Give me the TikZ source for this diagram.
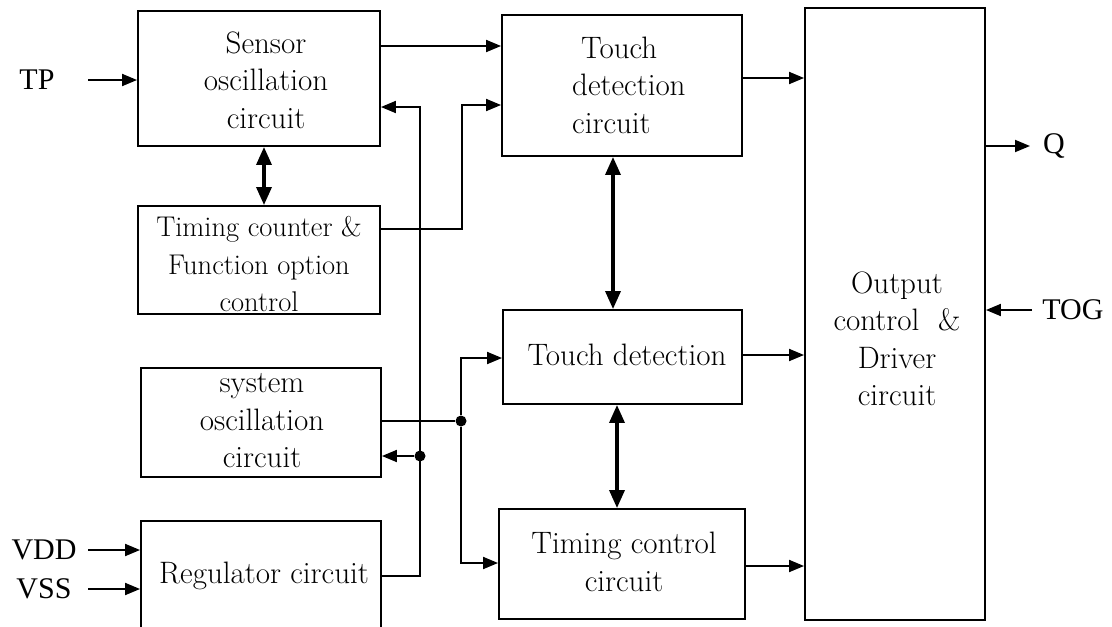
\documentclass[tikz,border=0pt]{standalone}
\usepackage{fontspec}
\newfontfamily\lab{Liberation Serif}
\usetikzlibrary{arrows.meta,fit}
\begin{document}
\begin{tikzpicture}[x=1pt,y=-1pt,
  box/.style={draw,line width=1.9pt,inner sep=0pt,rectangle},
  btext/.style={font=\fontsize{31}{37.5}\selectfont,align=center,inner sep=0pt},
  ltext/.style={font=\lab\fontsize{30}{30}\selectfont,inner sep=0pt},
  wire/.style={line width=1.9pt},
  arr/.style={line width=1.9pt,-{Triangle[length=15pt,width=12pt]}},
  darr/.style={line width=3.4pt,{Triangle[length=18pt,width=15pt]}-{Triangle[length=18pt,width=15pt]}},
  jdot/.style={circle,fill,inner sep=0pt,minimum size=11pt}]
\useasboundingbox (0,0) rectangle (1112,627);
\clip (0,0) rectangle (1112,627);
% boxes
\node[box,fit={(138,11) (380,146)}] (sens) {};
\node[box,fit={(138,206) (380,314)}] (tcnt) {};
\node[box,fit={(141,368) (381,477)}] (sosc) {};
\node[box,fit={(141,521) (381,660)}] (reg) {};
\node[box,fit={(502,15) (742,156)}] (tdc) {};
\node[box,fit={(503,310) (742,404)}] (td) {};
\node[box,fit={(499,509) (745,619)}] (tc) {};
\node[box,fit={(805,8) (985,620)}] (out) {};
% box texts
\node[btext] (tsens) at (266,80) {Sensor\\oscillation\\circuit};
\node[btext,font=\fontsize{28.5}{37.5}\selectfont] (ttcnt) at (259,264) {Timing counter \&\\Function option\\control};
\node[btext] (tsosc) at (262,421) {system\\oscillation\\circuit};
\node[btext] (treg) at (264,576) {Regulator circuit};
\node[btext,align=left,anchor=west] (ttdc) at (572,85) {\hspace{9pt}Touch\\detection\\circuit};
\node[btext] (ttd) at (627,355) {Touch detection};
\node[btext] (ttc) at (624,562) {Timing control\\circuit};
\node[btext] (tout) at (897,339) {Output\\control \ \&\\Driver\\circuit};
% outside labels
\node[ltext] (tp) at (37,80) {TP};
\node[ltext] (vdd) at (44,550) {VDD};
\node[ltext] (vss) at (44,589) {VSS};
\node[ltext] (q) at (1054,146) {Q};
\node[ltext] (tog) at (1073,310) {TOG};
% junction coordinates
\coordinate (tpA) at (88,80);
\coordinate (vddA) at (88,550);
\coordinate (vssA) at (88,589);
\coordinate (qA) at (1030,146);
\coordinate (togA) at (1032,310);
\coordinate (regR) at (420,576);
\coordinate (sensIn) at (420,107);
\node[jdot] (d1) at (420,456) {};
\node[jdot] (d2) at (461,421) {};
\coordinate (tcntR) at (462,229);
\coordinate (tdcIn) at (462,105);
\coordinate (tdIn) at (461,358);
\coordinate (tcIn) at (461,563);
% connectors
\draw[arr] (tpA) -- (tpA -| sens.west);
\draw[arr] (vddA) -- (vddA -| reg.west);
\draw[arr] (vssA) -- (vssA -| reg.west);
\draw[arr] (sens.east |- 0,46) -- (tdc.west |- 0,46);
\draw[arr] (tdc.east |- 0,78) -- (out.west |- 0,78);
\draw[arr] (td.east |- 0,355) -- (out.west |- 0,355);
\draw[arr] (tc.east |- 0,566) -- (out.west |- 0,566);
\draw[arr] (out.east |- qA) -- (qA);
\draw[arr] (togA) -- (out.east |- togA);
\draw[darr] (sens.south -| 264,0) -- (tcnt.north -| 264,0);
\draw[darr] (tdc.south -| 613,0) -- (td.north -| 613,0);
\draw[darr] (td.south -| 617,0) -- (tc.north -| 617,0);
\draw[arr] (tcnt.east |- tcntR) -- (tcntR) -- (tdcIn) -- (tdc.west |- tdcIn);
\draw[arr] (reg.east |- regR) -- (regR) -- (sensIn) -- (sens.east |- sensIn);
\draw[arr] (d1) -- (sosc.east |- d1);
\draw[wire] (sosc.east |- d2) -- (d2);
\draw[arr] (d2) -- (tdIn) -- (td.west |- tdIn);
\draw[arr] (d2) -- (tcIn) -- (tc.west |- tcIn);
\end{tikzpicture}
\end{document}
